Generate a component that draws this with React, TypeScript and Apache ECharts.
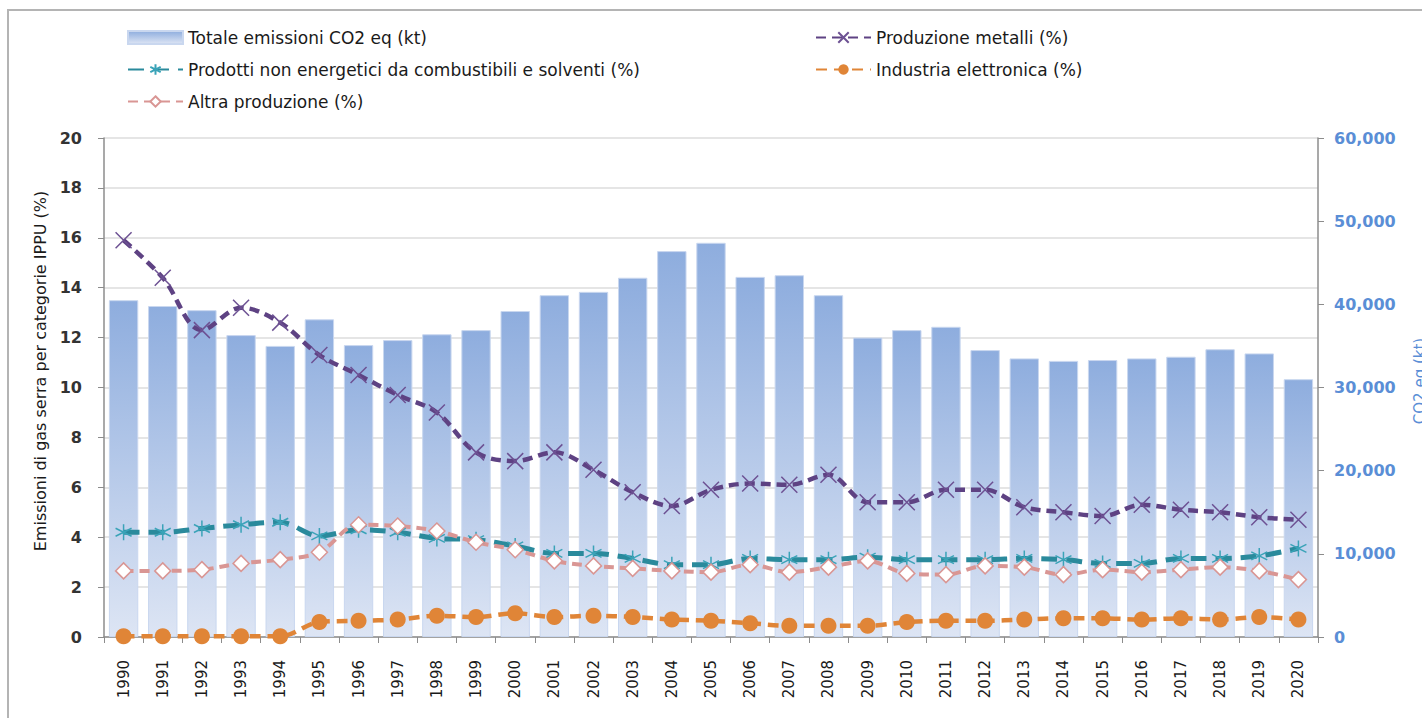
import React, { useEffect, useRef } from "react";
import * as echarts from "echarts";

const years = ["1990","1991","1992","1993","1994","1995","1996","1997","1998","1999","2000","2001","2002","2003","2004","2005","2006","2007","2008","2009","2010","2011","2012","2013","2014","2015","2016","2017","2018","2019","2020"];

const totaleCO2 = [40500,39800,39300,36300,35000,38200,35100,35700,36400,36900,39200,41100,41500,43200,46400,47400,43300,43500,41100,36000,36900,37300,34500,33500,33200,33300,33500,33700,34600,34100,31000];

const produzioneMetalli = [15.9,14.4,12.3,13.2,12.6,11.3,10.5,9.7,9.0,7.4,7.05,7.4,6.7,5.8,5.25,5.9,6.15,6.1,6.5,5.4,5.4,5.9,5.9,5.2,5.0,4.85,5.3,5.1,5.0,4.8,4.7];

const prodottiNonEnergetici = [4.2,4.2,4.35,4.5,4.6,4.05,4.3,4.2,3.95,3.9,3.65,3.35,3.35,3.15,2.9,2.9,3.15,3.1,3.1,3.2,3.1,3.1,3.1,3.15,3.1,2.95,2.95,3.15,3.15,3.25,3.55];

const altraProduzione = [2.65,2.65,2.7,2.95,3.1,3.4,4.5,4.45,4.25,3.8,3.5,3.05,2.85,2.75,2.65,2.6,2.9,2.6,2.8,3.05,2.55,2.5,2.85,2.8,2.5,2.7,2.6,2.7,2.8,2.65,2.3];

const industriaElettronica = [0.03,0.03,0.03,0.03,0.03,0.6,0.65,0.7,0.85,0.8,0.95,0.8,0.85,0.8,0.7,0.65,0.55,0.45,0.45,0.45,0.6,0.65,0.65,0.7,0.75,0.75,0.7,0.75,0.7,0.8,0.7];

const leftTicks = { min: 0, max: 20, interval: 2 };
const rightTicks = { min: 0, max: 60000, interval: 10000 };

const FONT = "'DejaVu Sans', sans-serif";

export default function App() {
  const ref = useRef<HTMLDivElement>(null);
  useEffect(() => {
    if (!ref.current) return;
    const chart = echarts.init(ref.current, null, { renderer: "svg" });
    const lineBase = (name: string, data: number[], color: string, dash: number[], width: number, symbol: string, symbolSize: number, item: any) => ({
      name,
      type: "line",
      data,
      smooth: 0.35,
      yAxisIndex: 0,
      symbol,
      symbolSize,
      lineStyle: { color, width, type: dash },
      itemStyle: item,
      z: 3,
    });
    const legendCommon = {
      orient: "vertical", top: 29, itemWidth: 55, itemHeight: 13, itemGap: 15, padding: 0,
      textStyle: { fontSize: 17, color: "#1a1a1a", fontFamily: FONT },
    };
    chart.setOption({
      animation: false,
      textStyle: { fontFamily: FONT },
      graphic: [
        { type: "rect", shape: { x: 8, y: 10, width: 1600, height: 900 }, style: { fill: "none", stroke: "#b4b4b4", lineWidth: 2 }, silent: true },
        { type: "text", x: 40, y: 371, rotation: Math.PI / 2, style: { text: "Emissioni di gas serra per categorie IPPU (%)", fill: "#1a1a1a", font: `16px ${FONT}`, align: "center", verticalAlign: "middle" } },
        { type: "text", x: 1420, y: 381, rotation: Math.PI / 2, style: { text: "CO2 eq (kt)", fill: "#5a8ed6", font: `15px ${FONT}`, align: "center", verticalAlign: "middle" } },
      ],
      legend: [
        {
          ...legendCommon, left: 127,
          data: [
            { name: "Totale emissioni CO2 eq (kt)", icon: "rect" },
            "Prodotti non energetici da combustibili e solventi (%)",
            "Altra produzione (%)",
          ],
        },
        {
          ...legendCommon, left: 815,
          data: ["Produzione metalli (%)", "Industria elettronica (%)"],
        },
      ],
      grid: { left: 104, right: 104, top: 138, bottom: 81 },
      xAxis: {
        type: "category",
        data: years,
        axisLine: { lineStyle: { color: "#8c8c8c", width: 1.5 } },
        axisTick: { show: true, length: 6, lineStyle: { color: "#8c8c8c" } },
        axisLabel: { rotate: 90, fontSize: 15, color: "#1a1a1a", margin: 23, interval: 0, fontFamily: FONT },
      },
      yAxis: [
        {
          type: "value", ...leftTicks, position: "left",
          axisLine: { show: true, lineStyle: { color: "#8c8c8c", width: 1.5 } },
          axisTick: { show: true, length: 6, lineStyle: { color: "#8c8c8c" } },
          axisLabel: { fontSize: 16, color: "#333", margin: 22, fontWeight: "bold", fontFamily: FONT },
          splitLine: { show: true, lineStyle: { color: "#dcdcdc", width: 1.5 } },
        },
        {
          type: "value", ...rightTicks, position: "right",
          axisLine: { show: true, lineStyle: { color: "#8c8c8c", width: 1.5 } },
          axisTick: { show: true, length: 6, lineStyle: { color: "#8c8c8c" } },
          axisLabel: { fontSize: 16, color: "#5a8ed6", margin: 16, fontWeight: "bold", fontFamily: FONT, formatter: (v: number) => v.toLocaleString("en-US") },
          splitLine: { show: false },
        },
      ],
      series: [
        {
          name: "Totale emissioni CO2 eq (kt)",
          type: "bar",
          yAxisIndex: 1,
          data: totaleCO2,
          barWidth: "75%",
          itemStyle: {
            color: new echarts.graphic.LinearGradient(0, 0, 0, 1, [
              { offset: 0, color: "#8eadde" },
              { offset: 1, color: "#dde5f4" },
            ]),
            borderColor: "#c9d7ef",
            borderWidth: 1,
          },
          z: 1,
        },
        lineBase("Produzione metalli (%)", produzioneMetalli, "#5e4283", [10, 6], 4.5, "path://M0,0L10,10M10,0L0,10", 16,
          { color: "#5e4283", borderColor: "#6d5193", borderWidth: 1.5 }),
        lineBase("Prodotti non energetici da combustibili e solventi (%)", prodottiNonEnergetici, "#2a8a9c", [16, 9], 5, "path://M5,0L5,10M0.7,2.5L9.3,7.5M0.7,7.5L9.3,2.5", 16,
          { color: "#3aa3b8", borderColor: "#3aa3b8", borderWidth: 1.5 }),
        lineBase("Altra produzione (%)", altraProduzione, "#d99694", [10, 6], 4, "diamond", 16,
          { color: "#ffffff", borderColor: "#d99694", borderWidth: 1.5 }),
        lineBase("Industria elettronica (%)", industriaElettronica, "#e08537", [11, 7], 4.5, "circle", 16,
          { color: "#e08537", borderColor: "#e08537", borderWidth: 0 }),
      ],
    });
    return () => chart.dispose();
  }, []);
  return <div ref={ref} style={{ position: "fixed", left: 0, top: 0, width: 1422, height: 718, background: "#fff" }} />;
}
